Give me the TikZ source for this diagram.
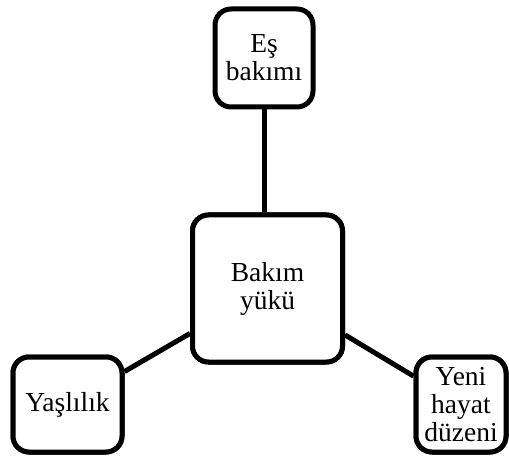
\documentclass[tikz,border=0pt]{standalone}
\usepackage{fontspec}
\setmainfont{Liberation Serif}
\begin{document}
\begin{tikzpicture}[x=1pt,y=-1pt,
  box/.style={draw=black, line width=5pt, rounded corners=16pt, fill=white,
    align=center, inner sep=0pt,
    font=\fontsize{27.5}{28}\selectfont},
  link/.style={draw=black, line width=5pt}]
  \useasboundingbox (0,0) rectangle (509,457);
  % boxes: centre, then the three outer topics
  \node[box, minimum width=150pt, minimum height=147pt] (core) at (267.5,288.5) {Bakım\\yükü};
  \node[box, minimum width=98pt, minimum height=98pt] (spouse) at (264,58) {Eş\\bakımı};
  \node[box, minimum width=109pt, minimum height=95pt] (age) at (67.5,404.5) {Yaşlılık};
  \node[box, minimum width=90pt, minimum height=95pt] (life) at (461,404.5) {Yeni\\hayat\\düzeni};
  % connectors
  \draw[link] (spouse.south) -- (spouse.south |- core.north);
  \draw[link] (core) -- (age);
  \draw[link] (core) -- (life);
  % redraw boxes over the connector ends
  \node[box, minimum width=150pt, minimum height=147pt] at (267.5,288.5) {Bakım\\yükü};
  \node[box, minimum width=109pt, minimum height=95pt] at (67.5,404.5) {Yaşlılık};
  \node[box, minimum width=90pt, minimum height=95pt] at (461,404.5) {Yeni\\hayat\\düzeni};
\end{tikzpicture}
\end{document}
